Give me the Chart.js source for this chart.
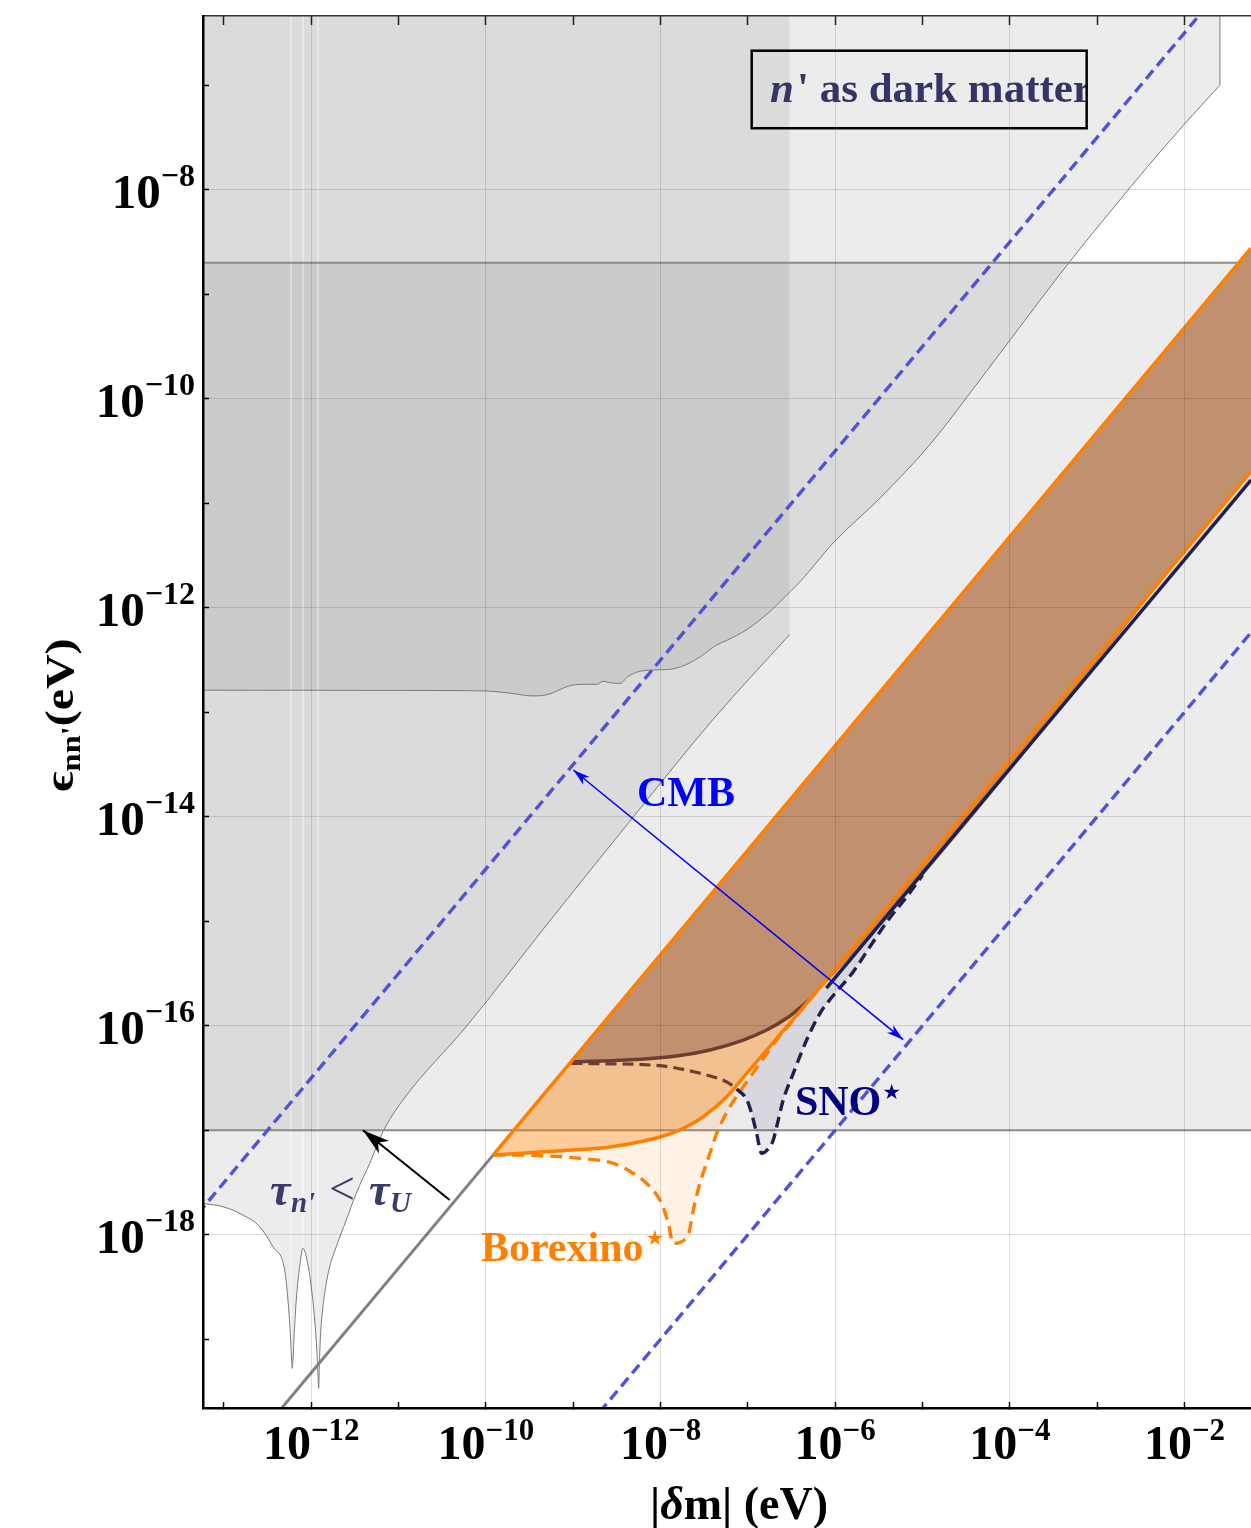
<!DOCTYPE html>
<html>
<head>
<meta charset="utf-8">
<title>n' as dark matter</title>
<script src="https://cdn.jsdelivr.net/npm/chart.js@4.4.1/dist/chart.umd.min.js"></script>
<style>
html, body { margin: 0; padding: 0; background: #ffffff; }
#wrap { position: relative; width: 1251px; height: 1528px; }
#c { display: block; }
</style>
</head>
<body>
<div id="wrap"><canvas id="c" width="1251" height="1528"></canvas></div>
<script>
// ================= DATA (every number is log10 of a value in eV) =================
const xRangeExp = [-13.24, -1.238];
const yRangeExp = [-19.658, -6.338];
const xTickExps = [-13, -12, -11, -10, -9, -8, -7, -6, -5, -4, -3, -2];
const xLabelExps = [-12, -10, -8, -6, -4, -2];
const yTickExps = [-19, -18, -17, -16, -15, -14, -13, -12, -11, -10, -9, -8, -7];
const yLabelExps = [-18, -16, -14, -12, -10, -8];

// horizontal excluded band
const bandDmExp = [-13.3, -1.2];
const bandEpsExp = [-17.0, -8.699];

// tau_n' < tau_U boundary (spiky curve + straight part), region lies above it up to its last point
const tauDmExp = [-13.30, -13.24, -13.011, -12.782, -12.591, -12.439, -12.305, -12.267, -12.240, -12.225, -12.218,
  -12.210, -12.195, -12.172, -12.133, -12.095, -12.057, -12.000, -11.961, -11.935, -11.923, -11.915, -11.908,
  -11.897, -11.874, -11.835, -11.789, -11.714, -11.599, -11.485, -11.331, -11.179, -10.950, -10.217, -9.3, -8.310, -7.4, -6.521];
const tauEpsExp = [-17.69, -17.700, -17.732, -17.812, -17.923, -18.115, -18.338, -18.625, -18.944, -19.199, -19.279,
  -19.199, -18.944, -18.625, -18.306, -18.130, -18.211, -18.498, -18.816, -19.135, -19.359, -19.470, -19.263,
  -19.008, -18.752, -18.498, -18.306, -18.115, -17.859, -17.604, -17.317, -17.014, -16.711, -16.0, -15.03, -14.0, -13.07, -12.257];

// upper gray constraint curve (region above it, ends with a vertical edge)
const topDmExp = [-13.30, -12.0, -10.6, -9.997, -9.70, -9.471, -9.296, -9.033, -8.858, -8.726, -8.659, -8.594,
  -8.464, -8.375, -8.244, -8.069, -7.850, -7.675, -7.543, -7.368, -7.236, -7.017, -6.754, -6.521, -6.40, -6.022,
  -5.487, -4.915, -4.342, -3.999, -3.312, -2.816, -2.433, -2.014, -1.594];
const topEpsExp = [-12.789, -12.790, -12.792, -12.797, -12.82, -12.844, -12.832, -12.745, -12.733, -12.733, -12.703,
  -12.716, -12.724, -12.660, -12.610, -12.596, -12.584, -12.532, -12.468, -12.362, -12.310, -12.212, -12.041, -11.849,
  -11.75, -11.379, -10.951, -10.439, -9.82, -9.44, -8.687, -8.175, -7.790, -7.385, -7.0];
const topEdgeDmExp = [-1.594, -1.594];
const topEdgeEpsExp = [-7.0, -6.2];

// thin light seams inside the gray region
const seamDmExp = [-12.233, -12.095, -11.923];
const seamEpsExp = [-19.05, -18.13, -19.40];
const seamTopEpsExp = -6.2;

// straight diagonal lines
const uGrayDmExp = [-12.5, -9.916], uGrayEpsExp = [-19.82, -17.236];
const uOrangeDmExp = [-9.916, -1.238], uOrangeEpsExp = [-17.236, -8.558];
const loDmExp = [-6.327, -1.238], loEpsExp = [-15.787, -10.698];
const snoLineDmExp = [-6.1, -1.238], snoLineEpsExp = [-15.64, -10.778];
const cmbUpperDmExp = [-13.3, -1.838], cmbUpperEpsExp = [-17.8, -6.338];
const cmbLowerDmExp = [-8.7, -1.2], cmbLowerEpsExp = [-19.7, -12.2];

// Borexino solid curve (joins the lower line)
const boreDmExp = [-9.916, -9.5, -9.0, -8.579, -8.236, -8.007, -7.740, -7.511, -7.243, -7.014, -6.785, -6.556, -6.327];
const boreEpsExp = [-17.236, -17.215, -17.19, -17.16, -17.11, -17.065, -16.982, -16.871, -16.679, -16.456, -16.233, -16.010, -15.787];

// Borexino* dashed curve
const boreStarDmExp = [-9.916, -9.495, -8.923, -8.542, -8.313, -8.121, -7.987, -7.912, -7.854, -7.683, -7.625, -7.549,
  -7.434, -7.357, -7.205, -7.053, -6.862, -6.670, -6.480, -6.327, -6.174, -6.0];
const boreStarEpsExp = [-17.236, -17.240, -17.269, -17.317, -17.413, -17.541, -17.700, -17.891, -18.083, -18.003, -17.764,
  -17.508, -17.221, -17.030, -16.775, -16.584, -16.360, -16.137, -15.946, -15.787, -15.634, -15.46];

// SNO solid (brown) curve
const brownDmExp = [-9.02, -8.388, -7.816, -7.434, -7.053, -6.785, -6.556, -6.366, -6.289];
const brownEpsExp = [-16.345, -16.328, -16.290, -16.232, -16.137, -16.041, -15.929, -15.802, -15.749];

// SNO* dashed curve: brown part, then navy part
const brownDashDmExp = [-9.02, -8.575, -8.194, -7.889, -7.622, -7.431, -7.282, -7.167, -7.128];
const brownDashEpsExp = [-16.36, -16.365, -16.372, -16.395, -16.440, -16.481, -16.522, -16.577, -16.605];
const snoStarDmExp = [-7.128, -7.014, -6.957, -6.900, -6.842, -6.755, -6.709, -6.670, -6.595, -6.480, -6.327, -6.174,
  -6.06, -5.793, -5.602, -5.392, -5.181, -5.0];
const snoStarEpsExp = [-16.605, -16.705, -16.839, -17.030, -17.221, -17.165, -17.094, -16.967, -16.711, -16.456, -16.137,
  -15.881, -15.75, -15.483, -15.244, -14.988, -14.766, -14.56];

// arrows (tail/tip)
const cmbArrowDmExp = [-8.999, -5.221], cmbArrowEpsExp = [-13.553, -16.134];
const tauArrowDmExp = [-10.415, -11.408], tauArrowEpsExp = [-17.668, -17.0];

// ================= STYLE / PLACEMENT =================
const SERIF = "'Liberation Serif','Times New Roman','DejaVu Serif',serif";
const STAR_FONT = "'DejaVu Sans','Liberation Serif',sans-serif";
const GRAY = 'rgba(0,0,0,0.075)';
const GRID = 'rgba(0,0,0,0.13)';
const ORANGE = '#ff8000';
const NAVY = '#20204f';
const BROWN_LINE = '#6e3f31';
const BLUE_DASH = 'rgb(82,82,216)';
const textPos = {
  cmb: [-7.709, -13.898], sno: [-6.461, -16.855], borexino: [-10.057, -18.254], tau: [-12.473, -17.716],
  legendA: [-6.956, -6.670], legendB: [-3.120, -7.412], legendText: [-6.746, -7.158]
};

// ================= BUILD =================
const pts = (xs, ys) => xs.map((v, i) => ({ x: Math.pow(10, v), y: Math.pow(10, ys[i]) }));
const datasets = [];
function add(o) {
  datasets.push(Object.assign({
    pointRadius: 0, pointHoverRadius: 0, borderWidth: 0, fill: false, clip: 0,
    cubicInterpolationMode: 'monotone', capBezierPoints: false, borderColor: 'rgba(0,0,0,0)'
  }, o));
  return datasets.length - 1;
}

// gray layers
add({ data: pts(bandDmExp, [bandEpsExp[1], bandEpsExp[1]]), fill: { value: Math.pow(10, bandEpsExp[0]) }, backgroundColor: GRAY, cubicInterpolationMode: 'default', order: 100 });
add({ data: pts(tauDmExp, tauEpsExp), fill: 'end', backgroundColor: GRAY, order: 99 });
add({ data: pts(topDmExp, topEpsExp), fill: 'end', backgroundColor: GRAY, order: 98 });
seamDmExp.forEach((d, i) => add({ data: pts([d, d + 0.0002], [seamEpsExp[i], seamTopEpsExp]), borderColor: 'rgba(255,255,255,0.45)', borderWidth: 1.5, cubicInterpolationMode: 'default', order: 97 }));
add({ data: pts(bandDmExp, [bandEpsExp[0], bandEpsExp[0]]), borderColor: '#8a8a8a', borderWidth: 2, cubicInterpolationMode: 'default', order: 90 });
add({ data: pts(bandDmExp, [bandEpsExp[1], bandEpsExp[1]]), borderColor: '#8a8a8a', borderWidth: 2, cubicInterpolationMode: 'default', order: 90 });
add({ data: pts(topDmExp, topEpsExp), borderColor: '#7a7a7a', borderWidth: 1, order: 90 });
add({ data: pts(topEdgeDmExp, topEdgeEpsExp), borderColor: '#7a7a7a', borderWidth: 1, cubicInterpolationMode: 'default', order: 90 });
add({ data: pts(tauDmExp, tauEpsExp), borderColor: '#7a7a7a', borderWidth: 1, order: 90 });

// coloured regions
const iU = add({ data: pts(uOrangeDmExp, uOrangeEpsExp), cubicInterpolationMode: 'default', order: 85 });
const iBS = add({ data: pts(boreStarDmExp.concat([loDmExp[1]]), boreStarEpsExp.concat([loEpsExp[1]])),
  fill: { target: iU, above: 'rgba(255,128,0,0.10)', below: 'rgba(255,128,0,0.10)' }, order: 80 });
add({ data: pts(boreDmExp.concat([loDmExp[1]]), boreEpsExp.concat([loEpsExp[1]])),
  fill: { target: iU, above: 'rgba(255,128,0,0.32)', below: 'rgba(255,128,0,0.32)' }, order: 79 });
add({ data: pts(brownDmExp.concat([loDmExp[1]]), brownEpsExp.concat([loEpsExp[1]])),
  fill: { target: iU, above: '#c1916f', below: '#c1916f' }, order: 78 });
add({ data: pts(snoStarDmExp.concat([snoLineDmExp[1]]), snoStarEpsExp.concat([snoLineEpsExp[1]])),
  fill: { target: iBS, above: 'rgba(0,0,0,0)', below: 'rgba(30,30,90,0.10)' }, order: 77 });

// strokes
add({ data: pts(uGrayDmExp, uGrayEpsExp), borderColor: '#808080', borderWidth: 3, cubicInterpolationMode: 'default', order: 60 });
add({ data: pts(cmbUpperDmExp, cmbUpperEpsExp), borderColor: BLUE_DASH, borderWidth: 3.4, borderDash: [11, 6], cubicInterpolationMode: 'default', order: 55 });
add({ data: pts(cmbLowerDmExp, cmbLowerEpsExp), borderColor: BLUE_DASH, borderWidth: 3.4, borderDash: [11, 6], cubicInterpolationMode: 'default', order: 55 });
add({ data: pts(boreStarDmExp, boreStarEpsExp), borderColor: ORANGE, borderWidth: 3.4, borderDash: [12, 7], order: 50 });
add({ data: pts(snoStarDmExp, snoStarEpsExp), borderColor: NAVY, borderWidth: 3.4, borderDash: [11, 6], order: 49 });
add({ data: pts(brownDashDmExp, brownDashEpsExp), borderColor: BROWN_LINE, borderWidth: 3.2, borderDash: [11, 6], order: 48 });
add({ data: pts(brownDmExp, brownEpsExp), borderColor: BROWN_LINE, borderWidth: 3.5, order: 47 });
add({ data: pts(snoLineDmExp, snoLineEpsExp), borderColor: NAVY, borderWidth: 3.5, cubicInterpolationMode: 'default', order: 46 });
add({ data: pts(boreDmExp.concat([loDmExp[1]]), boreEpsExp.concat([loEpsExp[1]])), borderColor: ORANGE, borderWidth: 3.5, order: 45 });
add({ data: pts(uOrangeDmExp, uOrangeEpsExp), borderColor: ORANGE, borderWidth: 3.5, cubicInterpolationMode: 'default', order: 44 });
add({ data: pts(cmbArrowDmExp, cmbArrowEpsExp), borderColor: '#0000ff', borderWidth: 1.6, cubicInterpolationMode: 'default', order: 40 });
add({ data: pts(tauArrowDmExp, tauArrowEpsExp), borderColor: '#000000', borderWidth: 2, cubicInterpolationMode: 'default', order: 40 });

// ================= TEXT / ARROWHEAD PLUGIN =================
function arrowHead(ctx, tip, from, len, half, color) {
  const dx = tip[0] - from[0], dy = tip[1] - from[1];
  const L = Math.hypot(dx, dy), ux = dx / L, uy = dy / L, px = -uy, py = ux;
  const bx = tip[0] - ux * len, by = tip[1] - uy * len;
  const ix = tip[0] - ux * len * 0.72, iy = tip[1] - uy * len * 0.72;
  ctx.beginPath();
  ctx.moveTo(tip[0], tip[1]);
  ctx.lineTo(bx + px * half, by + py * half);
  ctx.lineTo(ix, iy);
  ctx.lineTo(bx - px * half, by - py * half);
  ctx.closePath();
  ctx.fillStyle = color;
  ctx.fill();
}

const annotate = {
  id: 'annotate',
  afterDraw(chart) {
    const { ctx, chartArea: A } = chart;
    const sx = chart.scales.x, sy = chart.scales.y;
    const X = e => sx.getPixelForValue(Math.pow(10, e));
    const Y = e => sy.getPixelForValue(Math.pow(10, e));
    ctx.save();
    ctx.textBaseline = 'alphabetic';

    // arrowheads
    const c0 = [X(cmbArrowDmExp[0]), Y(cmbArrowEpsExp[0])], c1 = [X(cmbArrowDmExp[1]), Y(cmbArrowEpsExp[1])];
    arrowHead(ctx, c0, c1, 17, 5, '#0000ff');
    arrowHead(ctx, c1, c0, 17, 5, '#0000ff');
    const t0 = [X(tauArrowDmExp[0]), Y(tauArrowEpsExp[0])], t1 = [X(tauArrowDmExp[1]), Y(tauArrowEpsExp[1])];
    arrowHead(ctx, t1, t0, 27, 8, '#000000');

    // tick labels
    ctx.fillStyle = '#000';
    ctx.textAlign = 'left';
    const fMain = 'bold 48px ' + SERIF, fSup = 'bold 31px ' + SERIF;
    xLabelExps.forEach(e => {
      const sup = '\u2212' + Math.abs(e);
      ctx.font = fMain; const w1 = ctx.measureText('10').width;
      ctx.font = fSup; const w2 = ctx.measureText(sup).width;
      const x0 = X(e) - (w1 + w2) / 2;
      ctx.font = fMain; ctx.fillText('10', x0, A.bottom + 51);
      ctx.font = fSup; ctx.fillText(sup, x0 + w1, A.bottom + 32);
    });
    const fMainY = 'bold 49px ' + SERIF, fSupY = 'bold 32px ' + SERIF;
    yLabelExps.forEach(e => {
      const sup = '\u2212' + Math.abs(e);
      ctx.font = fSupY; const w2 = ctx.measureText(sup).width;
      ctx.font = fMainY; const w1 = ctx.measureText('10').width;
      const xr = A.left - 8;
      ctx.fillText('10', xr - w2 - w1, Y(e) + 18);
      ctx.font = fSupY; ctx.fillText(sup, xr - w2, Y(e) - 4);
    });

    // x title
    {
      const parts = [['|', 'bold 46px ' + SERIF], ['\u03B4', 'italic bold 46px ' + SERIF], ['m| (eV)', 'bold 46px ' + SERIF]];
      let w = 0; parts.forEach(p => { ctx.font = p[1]; w += ctx.measureText(p[0]).width; });
      let x = (A.left + A.right) / 2 + 12 - w / 2;
      parts.forEach(p => { ctx.font = p[1]; ctx.fillText(p[0], x, A.bottom + 111); x += ctx.measureText(p[0]).width; });
    }
    // y title (rotated)
    {
      ctx.save();
      ctx.translate(73, (A.top + A.bottom) / 2 + 3);
      ctx.rotate(-Math.PI / 2);
      ctx.scale(1.2, 1);
      const parts = [['\u03F5', 'bold 40px ' + SERIF, 0], ['nn\'', 'bold 27px ' + SERIF, 7], ['(eV)', 'bold 40px ' + SERIF, 0]];
      let w = 0; parts.forEach(p => { ctx.font = p[1]; w += ctx.measureText(p[0]).width; });
      let x = -w / 2;
      parts.forEach(p => { ctx.font = p[1]; ctx.fillText(p[0], x, p[2]); x += ctx.measureText(p[0]).width; });
      ctx.restore();
    }

    // CMB
    ctx.font = 'bold 42px ' + SERIF; ctx.fillStyle = '#0000ff'; ctx.textAlign = 'center';
    ctx.fillText('CMB', X(textPos.cmb[0]), Y(textPos.cmb[1]));
    ctx.textAlign = 'left';
    // SNO*
    {
      let x = X(textPos.sno[0]), y = Y(textPos.sno[1]);
      ctx.font = 'bold 42px ' + SERIF; ctx.fillStyle = '#000080';
      ctx.fillText('SNO', x, y); x += ctx.measureText('SNO').width + 1;
      ctx.font = '21px ' + STAR_FONT; ctx.fillText('\u2605', x, y - 16);
    }
    // Borexino*
    {
      let x = X(textPos.borexino[0]), y = Y(textPos.borexino[1]);
      ctx.font = 'bold 42px ' + SERIF; ctx.fillStyle = ORANGE;
      ctx.fillText('Borexino', x, y); x += ctx.measureText('Borexino').width + 2;
      ctx.font = '21px ' + STAR_FONT; ctx.fillText('\u2605', x, y - 16);
    }
    // tau label
    {
      const x0 = X(textPos.tau[0]), y0 = Y(textPos.tau[1]);
      ctx.fillStyle = '#3a3a6c';
      ctx.font = 'italic bold 46px ' + SERIF; ctx.fillText('\u03C4', x0, y0);
      ctx.font = 'italic bold 29px ' + SERIF; ctx.fillText('n\'', x0 + 21, y0 + 7);
      ctx.font = '46px ' + SERIF; ctx.fillText('<', x0 + 59, y0 - 1);
      ctx.font = 'italic bold 46px ' + SERIF; ctx.fillText('\u03C4', x0 + 99, y0);
      ctx.font = 'italic bold 29px ' + SERIF; ctx.fillText('U', x0 + 120, y0 + 7);
    }
    // legend box
    {
      const bx0 = X(textPos.legendA[0]), by0 = Y(textPos.legendA[1]);
      const bx1 = X(textPos.legendB[0]), by1 = Y(textPos.legendB[1]);
      ctx.save();
      ctx.beginPath(); ctx.rect(bx0, by0, bx1 - bx0, by1 - by0); ctx.clip();
      let x = X(textPos.legendText[0]); const y = Y(textPos.legendText[1]);
      ctx.fillStyle = '#353565';
      ctx.font = 'italic bold 43px ' + SERIF; ctx.fillText('n', x, y); x += ctx.measureText('n').width + 3;
      ctx.font = 'bold 43px ' + SERIF; ctx.fillText('\' as dark matter', x, y);
      ctx.restore();
      ctx.lineWidth = 2.5; ctx.strokeStyle = '#000';
      ctx.strokeRect(bx0, by0, bx1 - bx0, by1 - by0);
    }
    ctx.restore();
  }
};

// ================= CHART =================
const expOf = v => Math.round(Math.log10(v));
const setTicks = list => s => { s.ticks = list.map(e => ({ value: Math.pow(10, e) })); };

new Chart(document.getElementById('c'), {
  type: 'line',
  data: { datasets },
  plugins: [annotate],
  options: {
    responsive: false,
    maintainAspectRatio: false,
    devicePixelRatio: 1,
    animation: false,
    events: [],
    layout: { padding: 0 },
    plugins: { legend: { display: false }, tooltip: { enabled: false }, title: { display: false } },
    scales: {
      x: {
        type: 'logarithmic', position: 'bottom', bounds: 'data',
        min: Math.pow(10, xRangeExp[0]), max: Math.pow(10, xRangeExp[1]),
        afterBuildTicks: setTicks(xTickExps),
        afterFit: s => { s.height = 120; },
        ticks: { display: false },
        grid: { z: 1, lineWidth: 1, color: c => (c.tick && xLabelExps.includes(expOf(c.tick.value))) ? GRID : 'rgba(0,0,0,0)',
                drawTicks: true, tickLength: -6, tickColor: '#000', tickWidth: 1.5 },
        border: { display: true, color: '#000', width: 2.5, z: 2 }
      },
      x2: {
        type: 'logarithmic', position: 'top', axis: 'x', bounds: 'data',
        min: Math.pow(10, xRangeExp[0]), max: Math.pow(10, xRangeExp[1]),
        afterBuildTicks: setTicks(xTickExps),
        afterFit: s => { s.height = 16; },
        ticks: { display: false },
        grid: { z: 1, drawOnChartArea: false, drawTicks: true, tickLength: -9, tickColor: '#222', tickWidth: 1.5 },
        border: { display: true, color: '#333', width: 1.5, z: 2 }
      },
      y: {
        type: 'logarithmic', position: 'left', bounds: 'data',
        min: Math.pow(10, yRangeExp[0]), max: Math.pow(10, yRangeExp[1]),
        afterBuildTicks: setTicks(yTickExps),
        afterFit: s => { s.width = 203; },
        ticks: { display: false },
        grid: { z: 1, lineWidth: 1, color: c => (c.tick && yLabelExps.includes(expOf(c.tick.value))) ? GRID : 'rgba(0,0,0,0)',
                drawTicks: true, tickLength: -6, tickColor: '#000', tickWidth: 1.5 },
        border: { display: true, color: '#000', width: 2.5, z: 2 }
      }
    }
  }
});
</script>
</body>
</html>
